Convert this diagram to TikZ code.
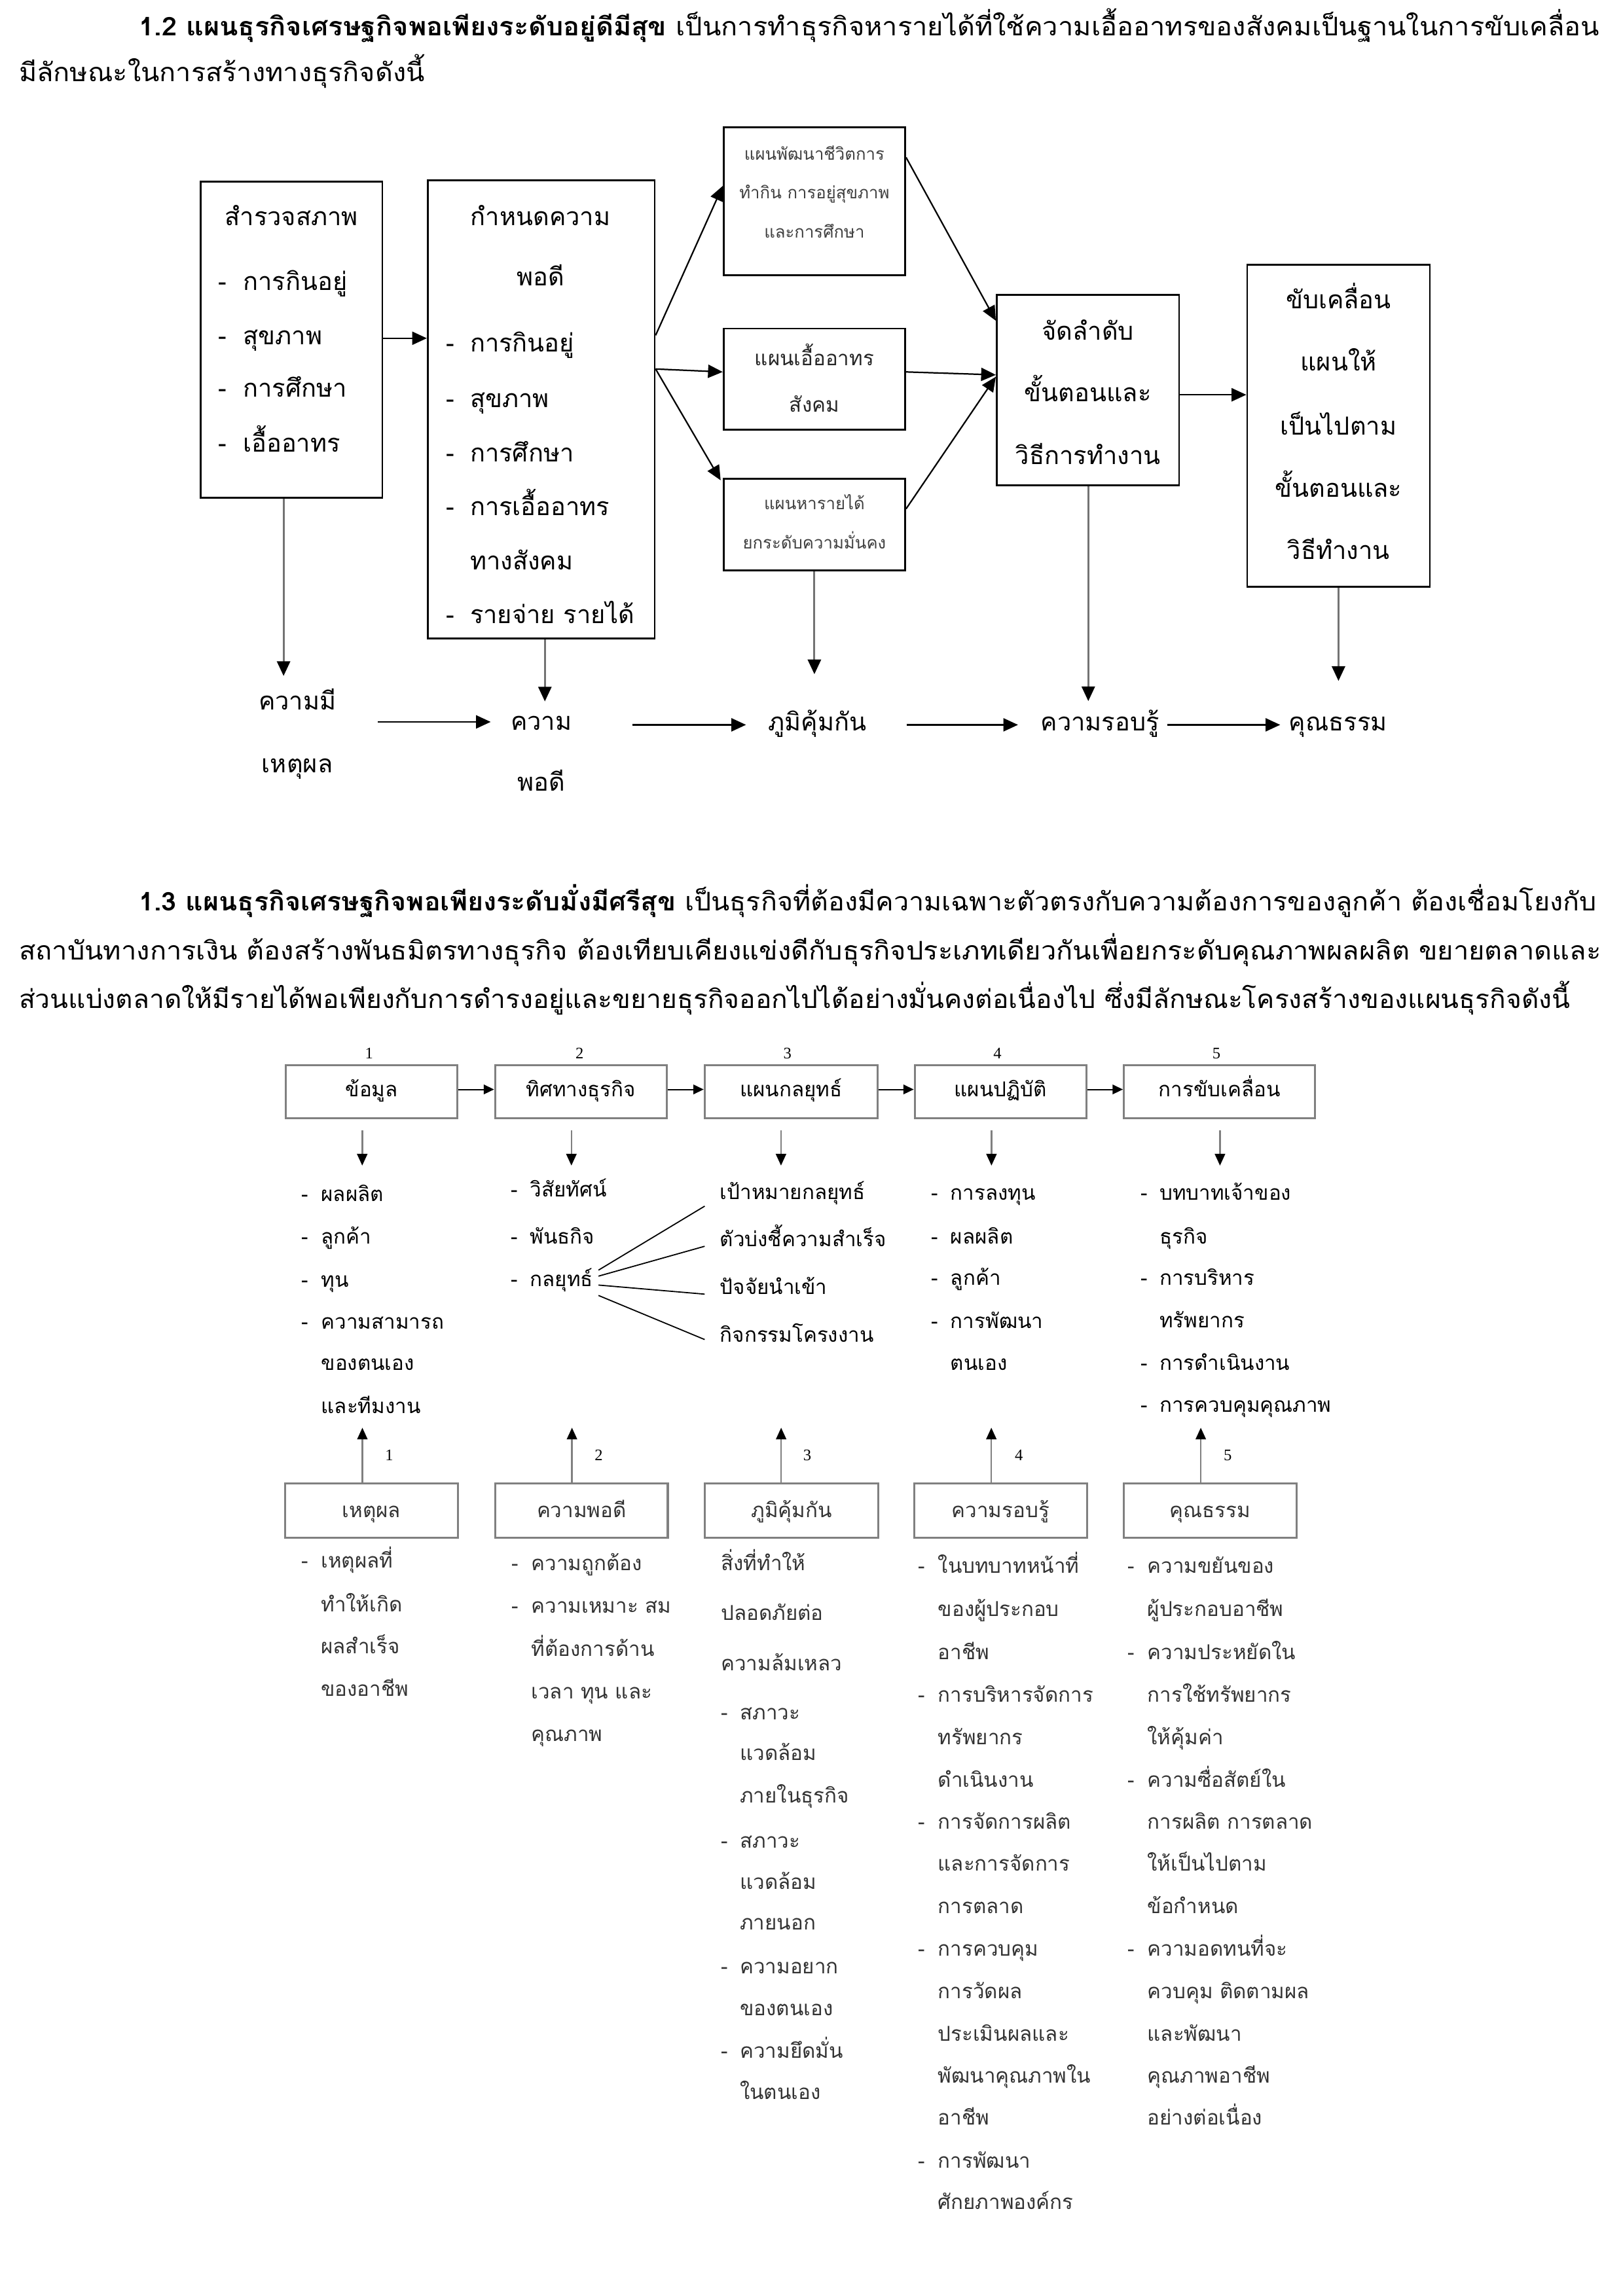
\documentclass[tikz,border=0pt]{standalone}
\usepackage{fontspec}
\usepackage{graphicx}
\usetikzlibrary{arrows.meta}
\newfontfamily\thai[Script=Thai]{Loma}
\newfontfamily\numf{Liberation Serif}
\newcommand\fs[1]{\fontsize{#1}{#1}\selectfont}
\newcommand\Li[5]{\node[#1,anchor=west] (#2) at (#3,#4) {#5};}
\newcommand\Ld[6]{\node[#1,anchor=west] (#2d) at (#3,#5) {-};\node[#1,anchor=west] (#2) at (#4,#5) {#6};}
\tikzset{
  P/.style={inner sep=0pt, outer sep=0pt, text height=10pt, text depth=1.8pt, font=\thai\fs{17.5}, anchor=west},
  T/.style={inner sep=0pt, outer sep=0pt, text height=10pt, text depth=1.7pt, font=\thai\fs{17}},
  Ts/.style={inner sep=0pt, outer sep=0pt, text height=7pt, text depth=1.2pt, font=\thai\fs{11.5}, text=black!75},
  Tm/.style={inner sep=0pt, outer sep=0pt, text height=8.4pt, text depth=1.4pt, font=\thai\fs{14}, text=black!85},
  S/.style={inner sep=0pt, outer sep=0pt, text height=8.4pt, text depth=1.4pt, font=\thai\fs{14}},
  SL/.style={inner sep=0pt, outer sep=0pt, text height=8.4pt, text depth=1.4pt, font=\thai\fs{14}, text=black!80},
  N/.style={inner sep=0pt, outer sep=0pt, font=\numf\fs{11}},
  tbox/.style={draw=black, line width=1.2pt, inner sep=0pt},
  bbox/.style={draw=black!50, line width=1.4pt, inner sep=0pt},
  arr/.style={-{Triangle[length=10pt,width=9pt]}, line width=1pt},
  garr/.style={draw=black!55, line width=1.3pt, -{Triangle[length=10pt,width=9pt,color=black]}},
  sarr/.style={-{Triangle[length=7pt,width=6.5pt]}, line width=0.9pt},
  sgarr/.style={draw=black!50, line width=1.1pt, -{Triangle[length=8pt,width=7pt,color=black]}},
}
\begin{document}
\begin{tikzpicture}[x=1pt,y=-1pt]
\fill[white] (0,0) rectangle (1108,1568);
\useasboundingbox (0,0) rectangle (1108,1568);

% ---------- paragraph 1.2 ----------
\node[P] (p11) at (95,20.4) {\resizebox{997pt}{\height}{\textbf{1.2 แผนธุรกิจเศรษฐกิจพอเพียงระดับอยู่ดีมีสุข} เป็นการทำธุรกิจหารายได้ที่ใช้ความเอื้ออาทรของสังคมเป็นฐานในการขับเคลื่อน}};
\node[P] (p12) at (13,51.5) {\resizebox{277pt}{\height}{มีลักษณะในการสร้างทางธุรกิจดังนี้}};

% ---------- top diagram boxes ----------
\node[tbox, minimum width=124pt, minimum height=216pt] (A) at (199,232) {};
\node[tbox, minimum width=155pt, minimum height=313pt] (B) at (369.5,279.5) {};
\node[tbox, minimum width=124pt, minimum height=101pt] (C1) at (556,137.5) {};
\node[tbox, minimum width=124pt, minimum height=69pt] (C2) at (556,258.9) {};
\node[tbox, minimum width=124pt, minimum height=62.6pt] (C3) at (556,358.3) {};
\node[tbox, minimum width=124.5pt, minimum height=130pt] (D) at (742.7,266.3) {};
\node[tbox, minimum width=124.7pt, minimum height=220pt] (E) at (913.8,290.7) {};

% box A text
\node[T] (At) at (199,150) {สำรวจสภาพ};
\Ld{T}{A1}{149}{166}{194}{การกินอยู่}
\Ld{T}{A2}{149}{166}{231}{สุขภาพ}
\Ld{T}{A3}{149}{166}{267}{การศึกษา}
\Ld{T}{A4}{149}{166}{304.5}{เอื้ออาทร}
% box B text
\node[T] (Bt1) at (369,150) {กำหนดความ};
\node[T] (Bt2) at (369,191) {พอดี};
\Ld{T}{B1}{304.5}{321}{236}{การกินอยู่}
\Ld{T}{B2}{304.5}{321}{274}{สุขภาพ}
\Ld{T}{B3}{304.5}{321}{311}{การศึกษา}
\Ld{T}{B4}{304.5}{321}{348}{การเอื้ออาทร}
\Li{T}{B5}{321}{385}{ทางสังคม}
\Ld{T}{B6}{304.5}{321}{421.5}{รายจ่าย รายได้}
% box C texts
\node[Ts] (C1a) at (556,106.6) {แผนพัฒนาชีวิตการ};
\node[Ts] (C1b) at (556,132.7) {ทำกิน การอยู่สุขภาพ};
\node[Ts] (C1c) at (556,159.8) {และการศึกษา};
\node[Tm] (C2a) at (556,246) {แผนเอื้ออาทร};
\node[Tm] (C2b) at (556,278) {สังคม};
\node[Ts] (C3a) at (556,345) {แผนหารายได้};
\node[Ts] (C3b) at (556,372) {ยกระดับความมั่นคง};
% box D, E texts
\node[T] (Da) at (742.7,228) {จัดลำดับ};
\node[T] (Db) at (742.7,270) {ขั้นตอนและ};
\node[T] (Dc) at (742.7,313) {วิธีการทำงาน};
\node[T] (Ea) at (913.8,206.6) {ขับเคลื่อน};
\node[T] (Eb) at (913.8,249) {แผนให้};
\node[T] (Ec) at (913.8,292.7) {เป็นไปตาม};
\node[T] (Ed) at (913.8,335.2) {ขั้นตอนและ};
\node[T] (Ee) at (913.8,377.9) {วิธีทำงาน};

% bottom labels of top diagram
\node[T] (K1a) at (203,480.6) {ความมี};
\node[T] (K1b) at (203,523.7) {เหตุผล};
\node[T] (K2a) at (369.5,494.5) {ความ};
\node[T] (K2b) at (369.5,536) {พอดี};
\node[T] (K3) at (558,495) {ภูมิคุ้มกัน};
\node[T] (K4) at (751,495) {ความรอบรู้};
\node[T] (K5) at (913.5,495) {คุณธรรม};

% top diagram connectors
\draw[arr] (A.east |- 0,231) -- (B.west |- 0,231);
\draw[arr] (B.east |- 0,229) -- (C1.west |- 0,127);
\draw[arr] (B.east |- 0,252) -- (C2.west |- 0,254);
\draw[arr] (B.east |- 0,252) -- (492,328);
\draw[arr] (C1.east |- 0,107.5) -- (D.west |- 0,219);
\draw[arr] (C2.east |- 0,254) -- (D.west |- 0,256);
\draw[arr] (C3.east |- 0,347.5) -- (D.west |- 0,257.3);
\draw[arr] (D.east |- 0,269.6) -- (E.west |- 0,269.6);
\draw[garr] (193.6,0 |- A.south) -- (193.6,461.6);
\draw[garr] (372,0 |- B.south) -- (372,479);
\draw[garr] (556,0 |- C3.south) -- (556,460.4);
\draw[garr] (743,0 |- D.south) -- (743,478.8);
\draw[garr] (913.8,0 |- E.south) -- (913.8,465);
\coordinate (h1s) at (258,493); \coordinate (h1e) at (335,493);
\coordinate (h2s) at (431.6,495); \coordinate (h2e) at (509.3,495);
\coordinate (h3s) at (619,495); \coordinate (h3e) at (695,495);
\coordinate (h4s) at (797,495); \coordinate (h4e) at (874,495);
\draw[arr] (h1s) -- (h1e);
\draw[arr] (h2s) -- (h2e);
\draw[arr] (h3s) -- (h3e);
\draw[arr] (h4s) -- (h4e);

% ---------- paragraph 1.3 ----------
\node[P] (p21) at (95,618) {\resizebox{995pt}{\height}{\textbf{1.3 แผนธุรกิจเศรษฐกิจพอเพียงระดับมั่งมีศรีสุข} เป็นธุรกิจที่ต้องมีความเฉพาะตัวตรงกับความต้องการของลูกค้า ต้องเชื่อมโยงกับ}};
\node[P] (p22) at (13,651.5) {\resizebox{1080pt}{\height}{สถาบันทางการเงิน ต้องสร้างพันธมิตรทางธุรกิจ ต้องเทียบเคียงแข่งดีกับธุรกิจประเภทเดียวกันเพื่อยกระดับคุณภาพผลผลิต ขยายตลาดและ}};
\node[P] (p23) at (13,684.5) {\resizebox{1059pt}{\height}{ส่วนแบ่งตลาดให้มีรายได้พอเพียงกับการดำรงอยู่และขยายธุรกิจออกไปได้อย่างมั่นคงต่อเนื่องไป ซึ่งมีลักษณะโครงสร้างของแผนธุรกิจดังนี้}};

% ---------- bottom diagram: upper row ----------
\node[bbox, minimum width=117.1pt, minimum height=36.2pt] (b1) at (253.75,745.5) {};
\node[bbox, minimum width=117.3pt, minimum height=36.2pt] (b2) at (396.65,745.5) {};
\node[bbox, minimum width=118pt, minimum height=36.2pt] (b3) at (540.1,745.5) {};
\node[bbox, minimum width=117.1pt, minimum height=36.2pt] (b4) at (683.05,745.5) {};
\node[bbox, minimum width=130.6pt, minimum height=36.2pt] (b5) at (832.6,745.5) {};
\node[S] (b1t) at (b1) {ข้อมูล};
\node[S] (b2t) at (b2) {ทิศทางธุรกิจ};
\node[S] (b3t) at (b3) {แผนกลยุทธ์};
\node[S] (b4t) at (b4) {แผนปฏิบัติ};
\node[S] (b5t) at (b5) {การขับเคลื่อน};
\node[N] (n1) at (252,719.5) {1};
\node[N] (n2) at (395.7,719.5) {2};
\node[N] (n3) at (537.6,719.5) {3};
\node[N] (n4) at (681,719.5) {4};
\node[N] (n5) at (830.5,719.5) {5};
\draw[sarr] (b1.east |- 0,744) -- (b2.west |- 0,744);
\draw[sarr] (b2.east |- 0,744) -- (b3.west |- 0,744);
\draw[sarr] (b3.east |- 0,744) -- (b4.west |- 0,744);
\draw[sarr] (b4.east |- 0,744) -- (b5.west |- 0,744);
\coordinate (d1s) at (247.3,772); \coordinate (d1e) at (247.3,796);
\coordinate (d2s) at (390.1,772); \coordinate (d2e) at (390.1,796);
\coordinate (d3s) at (533.2,772); \coordinate (d3e) at (533.2,796);
\coordinate (d4s) at (676.9,772); \coordinate (d4e) at (676.9,796);
\coordinate (d5s) at (832.9,772); \coordinate (d5e) at (832.9,796);
\draw[sgarr] (d1s) -- (d1e);
\draw[sgarr] (d2s) -- (d2e);
\draw[sgarr] (d3s) -- (d3e);
\draw[sgarr] (d4s) -- (d4e);
\draw[sgarr] (d5s) -- (d5e);

% column lists (upper)
\Ld{S}{u11}{206}{219.3}{816.7}{ผลผลิต}
\Ld{S}{u12}{206}{219.3}{845.8}{ลูกค้า}
\Ld{S}{u13}{206}{219.3}{875.5}{ทุน}
\Ld{S}{u14}{206}{219.3}{904.2}{ความสามารถ}
\Li{S}{u15}{219.3}{932.4}{ของตนเอง}
\Li{S}{u16}{219.3}{961.6}{และทีมงาน}
\Ld{S}{u21}{349}{361.9}{813.7}{วิสัยทัศน์}
\Ld{S}{u22}{349}{361.9}{845.8}{พันธกิจ}
\Ld{S}{u23}{349}{361.9}{875}{กลยุทธ์}
\Li{S}{u31}{491.6}{815.8}{เป้าหมายกลยุทธ์}
\Li{S}{u32}{491.6}{847.6}{ตัวบ่งชี้ความสำเร็จ}
\Li{S}{u33}{491.6}{880.3}{ปัจจัยนำเข้า}
\Li{S}{u34}{491.6}{913}{กิจกรรมโครงงาน}
\Ld{S}{u41}{636}{649}{816.1}{การลงทุน}
\Ld{S}{u42}{636}{649}{845.8}{ผลผลิต}
\Ld{S}{u43}{636}{649}{874.1}{ลูกค้า}
\Ld{S}{u44}{636}{649}{903.8}{การพัฒนา}
\Li{S}{u45}{649}{932.1}{ตนเอง}
\Ld{S}{u51}{779}{791.7}{816.1}{บทบาทเจ้าของ}
\Li{S}{u52}{791.7}{845.8}{ธุรกิจ}
\Ld{S}{u53}{779}{791.7}{874.1}{การบริหาร}
\Li{S}{u54}{791.7}{903.3}{ทรัพยากร}
\Ld{S}{u55}{779}{791.7}{932.1}{การดำเนินงาน}
\Ld{S}{u56}{779}{791.7}{960.7}{การควบคุมคุณภาพ}
% fan lines from กลยุทธ์
\coordinate (f1s) at (408.6,867.4); \coordinate (f1e) at (481.1,823.7);
\coordinate (f2s) at (408.6,871.5); \coordinate (f2e) at (481.1,851.1);
\coordinate (f3s) at (408.6,877.6); \coordinate (f3e) at (481.1,883.8);
\coordinate (f4s) at (408.6,884.7); \coordinate (f4e) at (481.1,914.8);
\draw[line width=0.8pt] (f1s) -- (f1e);
\draw[line width=0.8pt] (f2s) -- (f2e);
\draw[line width=0.8pt] (f3s) -- (f3e);
\draw[line width=0.8pt] (f4s) -- (f4e);

% ---------- bottom diagram: lower row ----------
\node[bbox, minimum width=118.3pt, minimum height=37pt] (l1) at (253.65,1031.5) {};
\node[bbox, minimum width=117.7pt, minimum height=37pt] (l2) at (397.05,1031.5) {};
\node[bbox, minimum width=118.3pt, minimum height=37pt] (l3) at (540.45,1031.5) {};
\node[bbox, minimum width=118.1pt, minimum height=37pt] (l4) at (683.15,1031.5) {};
\node[bbox, minimum width=118.1pt, minimum height=37pt] (l5) at (826.15,1031.5) {};
\node[SL] (l1t) at (253.65,1033) {เหตุผล};
\node[SL] (l2t) at (397.05,1033) {ความพอดี};
\node[SL] (l3t) at (540.45,1033) {ภูมิคุ้มกัน};
\node[SL] (l4t) at (683.15,1033) {ความรอบรู้};
\node[SL] (l5t) at (826.15,1033) {คุณธรรม};
\draw[sgarr] (247.4,0 |- l1.north) -- (247.4,975);
\draw[sgarr] (390.5,0 |- l2.north) -- (390.5,975);
\draw[sgarr] (533.3,0 |- l3.north) -- (533.3,975);
\draw[sgarr] (676.8,0 |- l4.north) -- (676.8,975);
\draw[sgarr] (819.8,0 |- l5.north) -- (819.8,975);
\node[N] (m1) at (265.7,993.7) {1};
\node[N] (m2) at (408.8,993.7) {2};
\node[N] (m3) at (551.1,993.7) {3};
\node[N] (m4) at (695.6,993.7) {4};
\node[N] (m5) at (838.2,993.7) {5};

% lower lists
\Ld{SL}{v11}{206}{219.2}{1067.3}{เหตุผลที่}
\Li{SL}{v12}{219.2}{1097.1}{ทำให้เกิด}
\Li{SL}{v13}{219.2}{1125.9}{ผลสำเร็จ}
\Li{SL}{v14}{219.2}{1155}{ของอาชีพ}
\Ld{SL}{v21}{349.5}{362.8}{1069}{ความถูกต้อง}
\Ld{SL}{v22}{349.5}{362.8}{1098.2}{ความเหมาะ สม}
\Li{SL}{v23}{362.8}{1127.6}{ที่ต้องการด้าน}
\Li{SL}{v24}{362.8}{1156.7}{เวลา ทุน และ}
\Li{SL}{v25}{362.8}{1185.8}{คุณภาพ}
\Li{SL}{v31}{492.3}{1069}{สิ่งที่ทำให้}
\Li{SL}{v32}{492.3}{1103.1}{ปลอดภัยต่อ}
\Li{SL}{v33}{492.3}{1137.4}{ความล้มเหลว}
\Ld{SL}{v34}{492.5}{505.2}{1170.8}{สภาวะ}
\Li{SL}{v35}{505.2}{1198.8}{แวดล้อม}
\Li{SL}{v36}{505.2}{1227.6}{ภายในธุรกิจ}
\Ld{SL}{v37}{492.5}{505.2}{1258.4}{สภาวะ}
\Li{SL}{v38}{505.2}{1286.5}{แวดล้อม}
\Li{SL}{v39}{505.2}{1314.5}{ภายนอก}
\Ld{SL}{v3a}{492.5}{505.2}{1344.3}{ความอยาก}
\Li{SL}{v3b}{505.2}{1373.1}{ของตนเอง}
\Ld{SL}{v3c}{492.5}{505.2}{1402.2}{ความยึดมั่น}
\Li{SL}{v3d}{505.2}{1430.2}{ในตนเอง}
\Ld{SL}{v41}{627}{640.4}{1070.7}{ในบทบาทหน้าที่}
\Li{SL}{v42}{640.4}{1100.1}{ของผู้ประกอบ}
\Li{SL}{v43}{640.4}{1129.6}{อาชีพ}
\Ld{SL}{v44}{627}{640.4}{1158.7}{การบริหารจัดการ}
\Li{SL}{v45}{640.4}{1188.1}{ทรัพยากร}
\Li{SL}{v46}{640.4}{1216.9}{ดำเนินงาน}
\Ld{SL}{v47}{627}{640.4}{1245.6}{การจัดการผลิต}
\Li{SL}{v48}{640.4}{1274.3}{และการจัดการ}
\Li{SL}{v49}{640.4}{1303.1}{การตลาด}
\Ld{SL}{v4a}{627}{640.4}{1332.5}{การควบคุม}
\Li{SL}{v4b}{640.4}{1361.3}{การวัดผล}
\Li{SL}{v4c}{640.4}{1390.3}{ประเมินผลและ}
\Li{SL}{v4d}{640.4}{1419.1}{พัฒนาคุณภาพใน}
\Li{SL}{v4e}{640.4}{1447.8}{อาชีพ}
\Ld{SL}{v4f}{627}{640.4}{1477.3}{การพัฒนา}
\Li{SL}{v4g}{640.4}{1505.3}{ศักยภาพองค์กร}
\Ld{SL}{v51}{770}{783.4}{1070.7}{ความขยันของ}
\Li{SL}{v52}{783.4}{1100.1}{ผู้ประกอบอาชีพ}
\Ld{SL}{v53}{770}{783.4}{1129.6}{ความประหยัดใน}
\Li{SL}{v54}{783.4}{1158.7}{การใช้ทรัพยากร}
\Li{SL}{v55}{783.4}{1188.1}{ให้คุ้มค่า}
\Ld{SL}{v56}{770}{783.4}{1216.9}{ความซื่อสัตย์ใน}
\Li{SL}{v57}{783.4}{1245.6}{การผลิต การตลาด}
\Li{SL}{v58}{783.4}{1274.3}{ให้เป็นไปตาม}
\Li{SL}{v59}{783.4}{1303.1}{ข้อกำหนด}
\Ld{SL}{v5a}{770}{783.4}{1332.5}{ความอดทนที่จะ}
\Li{SL}{v5b}{783.4}{1361.3}{ควบคุม ติดตามผล}
\Li{SL}{v5c}{783.4}{1390.3}{และพัฒนา}
\Li{SL}{v5d}{783.4}{1419.1}{คุณภาพอาชีพ}
\Li{SL}{v5e}{783.4}{1447.8}{อย่างต่อเนื่อง}
\end{tikzpicture}
\end{document}
